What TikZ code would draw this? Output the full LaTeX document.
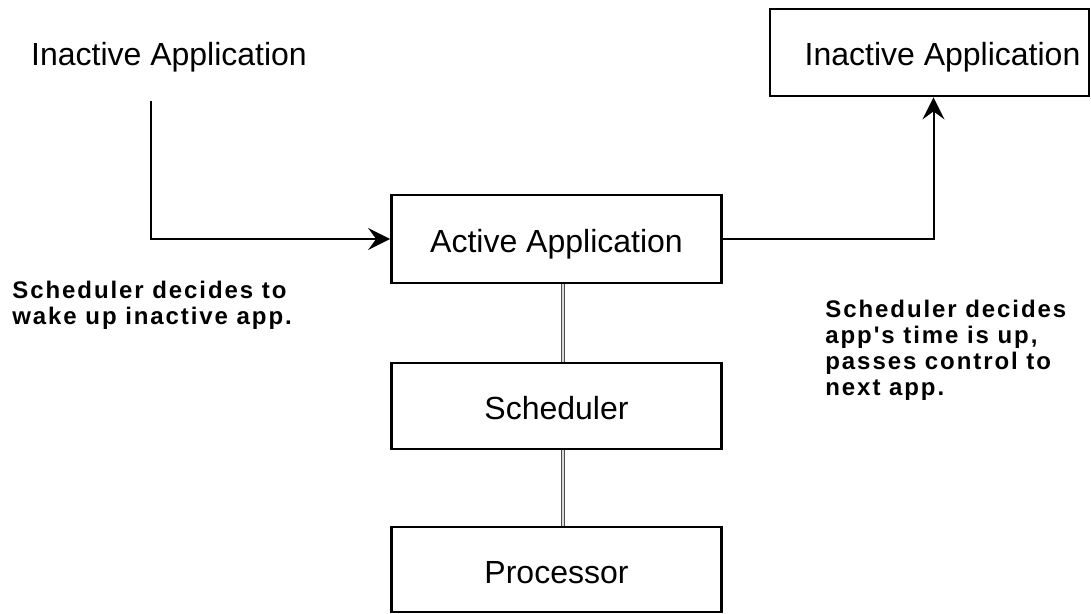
\documentclass[tikz,border=0pt]{standalone}
\usepackage{fontspec}
\setmainfont{Liberation Sans}
\newfontfamily\notefont[LetterSpace=8]{Liberation Sans}
\usetikzlibrary{arrows.meta}
\tikzset{blk/.style={draw, line width=1.4pt, minimum width=165pt, minimum height=43.5pt, text height=13.5pt, text depth=0pt, font=\fontsize{16}{19}\selectfont}}
\tikzset{flow/.style={line width=1pt, -{Stealth[length=11pt, width=11pt, inset=4pt]}}}
\tikzset{link/.style={double=white!85!black, double distance=1pt, line width=0.5pt, draw=black!70}}
\tikzset{note/.style={align=left, anchor=north west, inner sep=0pt, font=\notefont\bfseries\fontsize{12}{13}\selectfont}}

\begin{document}
\begin{tikzpicture}[x=0.5pt, y=-0.5pt]
            \useasboundingbox (0,0) rectangle (1091,614);
            \node[blk, draw=none] (inL) at (169,52.5) {Inactive Application};
            \node[blk, minimum width=159.5pt] (inR) at (929.5,52.5) {\hspace*{13pt}Inactive Application};
            \node[blk, minimum height=44pt] (act) at (556.5,239) {Active Application};
            \node[blk, minimum height=43pt] (sch) at (556.5,406) {Scheduler};
            \node[blk, minimum height=42.5pt] (proc) at (556.5,569.5) {Processor};
            % notes
            \node[note] (wake) at (12,281) {Scheduler decides to\\wake up inactive app.};
            \node[note] (pass) at (825,300) {Scheduler decides\\app's time is up,\\passes control to\\next app.};
            % switching
            \draw[flow] ([xshift=-9pt,yshift=-2pt]inL.south) |- (act);
            \draw[flow] (act) -| ([xshift=2pt]inR.south);
            \draw[link] ([xshift=3pt]act.south) -- ([xshift=3pt]sch.north);
            \draw[link] ([xshift=3pt]sch.south) -- ([xshift=3pt]proc.north);
        \end{tikzpicture}
\end{document}
